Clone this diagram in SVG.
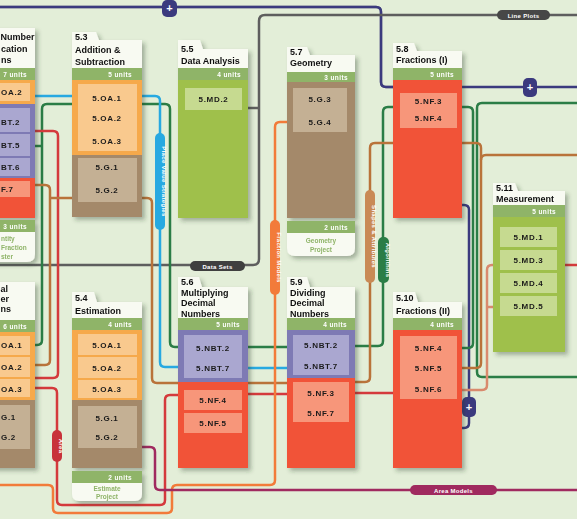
<svg xmlns="http://www.w3.org/2000/svg" width="577" height="519" viewBox="0 0 577 519">
<defs>
<filter id="sh" x="-15%" y="-15%" width="140%" height="140%"><feDropShadow dx="3" dy="3" stdDeviation="2" flood-color="#2f3d28" flood-opacity="0.35"/></filter>
<style>
.hd{fill:#f8faf2}
.bd{fill:#8fb468}
.or{fill:#f6a94b}.ori{fill:#f9c98e}
.pu{fill:#7e7ab4}.pui{fill:#aaa7d0}
.rd{fill:#f15337}.rdi{fill:#f7967a}
.br{fill:#a4896b}.bri{fill:#c4b094}
.gr{fill:#9fc04c}.gri{fill:#c6da90}
.ft{fill:#f8faf2}
text{font-family:"Liberation Sans",Arial,sans-serif;font-weight:bold}
.t{font-size:9px;fill:#111}
.it{font-size:8px;fill:#1a1a1a;text-anchor:middle;letter-spacing:0.7px}
.il{font-size:8px;fill:#1a1a1a;letter-spacing:0.7px}
.u{font-size:6.5px;fill:#fff;text-anchor:end;letter-spacing:0.4px}
.fx{font-size:6.5px;fill:#8fb468;text-anchor:middle}
.fl{font-size:6.5px;fill:#8fb468}
.pl{font-size:6px;fill:#fff;text-anchor:middle;letter-spacing:0.3px}
.c{fill:none;stroke-width:2.5;stroke-linejoin:round;stroke-linecap:butt}
.g{stroke:#2b7d46}.b{stroke:#27a9e1}.r{stroke:#d43a3c}.w{stroke:#b9733a}.s{stroke:#d98a6e}.o{stroke:#f27b3a}.m{stroke:#a02a5f}.n{stroke:#3b3a7e}.k{stroke:#5e5e5e}
</style>
</defs>
<rect width="577" height="519" fill="#e3eed8"/>

<g id="connectors">
  <path class="c" d="M0 7 H376 Q381 7 381 12 V82 Q381 87 386 87 H393" stroke="#8d8d9c" stroke-width="6"/>
  <path class="c n" d="M0 7 H376 Q381 7 381 12 V82 Q381 87 386 87 H393" stroke-width="3"/>
  <path class="c k" d="M0 265 H253 Q259 265 259 259 V21 Q259 15 265 15 H577" stroke-width="3"/>
  <path class="c k" d="M248 108 H259"/>
  <path class="c n" d="M462 87 H577" stroke-width="3"/>
  <path class="c n" d="M462 205 H464 Q469 205 469 210 V423 Q469 428 464 428 H462"/>
  <path class="c g" d="M35 146 H42"/>
  <path class="c g" d="M72 104 H47 Q42 104 42 109 V340 Q42 345 37 345 H35"/>
  <path class="c g" d="M142 104 H165 Q170 104 170 109 V342 Q170 347 175 347 H178"/>
  <path class="c g" d="M248 347 H287"/>
  <path class="c g" d="M355 346 H378 Q383 346 383 341 V112 Q383 107 388 107 H393"/>
  <path class="c g" d="M462 107 H468 Q473 107 473 112 V343 Q473 348 468 348 H462"/>
  <path class="c g" d="M577 103 H482 Q477 103 477 108 V372 Q477 377 482 377 H577"/>
  <path class="c b" d="M35 96 H72"/>
  <path class="c b" d="M142 96 H155 Q160 96 160 101 V362 Q160 367 165 367 H178"/>
  <path class="c b" d="M248 368 H287"/>
  <path class="c r" d="M35 131 H53 Q58 131 58 136 V373 Q58 378 53 378 H35"/>
  <path class="c r" d="M35 388 H52 Q57 388 57 393 V500 Q57 505 62 505 H160 Q165 505 165 500 V400 Q165 395 170 395 H178"/>
  <path class="c r" d="M248 394 H287"/>
  <path class="c r" d="M355 393 H393"/>
  <path class="c r" d="M565 265 H577"/>
  <path class="c w" d="M35 185 H45 Q50 185 50 190 V360 Q50 365 45 365 H35"/>
  <path class="c w" d="M72 198 H50"/>
  <path class="c w" d="M142 198 H147 Q152 198 152 203 V378 Q152 383 157 383 H178"/>
  <path class="c w" d="M248 383 H287"/>
  <path class="c w" d="M355 382 H365 Q370 382 370 377 V148 Q370 143 375 143 H393"/>
  <path class="c w" d="M462 143 H476 Q481 143 481 148 V363 Q481 368 476 368 H462"/>
  <path class="c w" d="M481 160 Q481 155 486 155 H577"/>
  <path class="c s" d="M493 265 H492 Q487 265 487 270 V385 Q487 390 482 390 H462"/>
  <path class="c s" d="M493 307 H487"/>
  <path class="c o" d="M0 485 H48 Q53 485 53 490 V508 Q53 513 58 513 H167 Q172 513 172 508 V490 Q172 485 177 485 H270 Q275 485 275 480 V127 Q275 122 280 122 H287"/>
  <path class="c m" d="M142 447 H150 Q155 447 155 452 V485 Q155 490 160 490 H577"/>
  <rect x="162" y="0" width="15" height="17" rx="5" fill="#3b3a7e"/>
  <text class="pl" x="169.5" y="12" style="font-size:11px">+</text>
  <rect x="523" y="78" width="14" height="19" rx="5" fill="#3b3a7e"/>
  <text class="pl" x="530" y="91" style="font-size:11px">+</text>
  <rect x="462" y="397" width="14" height="20" rx="5" fill="#3b3a7e"/>
  <text class="pl" x="469" y="411" style="font-size:11px">+</text>
  <rect x="190" y="261" width="55" height="10" rx="5" fill="#3f3f3f"/>
  <text class="pl" x="217.5" y="268.5">Data Sets</text>
  <rect x="497" y="10" width="53" height="10" rx="5" fill="#474747"/>
  <text class="pl" x="523.5" y="17.5">Line Plots</text>
  <rect x="410" y="485" width="87" height="10" rx="5" fill="#a02a5f"/>
  <text class="pl" x="453.5" y="492.5">Area Models</text>
  <rect x="155" y="133" width="10" height="97" rx="5" fill="#27a9e1"/>
  <text class="pl" transform="translate(162 181.5) rotate(90)" x="0" y="0">Place Value Strategies</text>
  <rect x="270" y="220" width="10" height="75" rx="5" fill="#f27b3a"/>
  <text class="pl" transform="translate(277 257.5) rotate(90)" x="0" y="0">Fraction Models</text>
  <rect x="365" y="190" width="10" height="93" rx="5" fill="#c98a55"/>
  <text class="pl" transform="translate(372 236.5) rotate(90)" x="0" y="0">Shapes &amp; Attributes</text>
  <rect x="378" y="237" width="11" height="46" rx="5" fill="#2b7d46"/>
  <text class="pl" transform="translate(385.5 260) rotate(90)" x="0" y="0">Algorithms</text>
  <rect x="52" y="430" width="10" height="32" rx="5" fill="#c8323a"/>
  <text class="pl" transform="translate(59 446) rotate(90)" x="0" y="0">Area</text>
</g>

<g id="n51" filter="url(#sh)">
  <rect class="hd" x="-40" y="28" width="75" height="40"/>
  <text class="t" x="0.5" y="40">Number</text>
  <text class="t" x="1" y="52">cation</text>
  <text class="t" x="1" y="63">ns</text>
  <rect class="bd" x="-40" y="68" width="75" height="12"/>
  <text class="u" x="27" y="76.5">7 units</text>
  <rect class="or" x="-40" y="80" width="75" height="24"/>
  <rect class="ori" x="-35" y="83" width="65" height="18"/>
  <text class="il" x="1" y="95">OA.2</text>
  <rect class="pu" x="-40" y="104" width="75" height="74"/>
  <rect class="pui" x="-35" y="108" width="65" height="24"/>
  <rect class="pui" x="-35" y="134" width="65" height="22"/>
  <rect class="pui" x="-35" y="158" width="65" height="18"/>
  <text class="il" x="1" y="125">BT.2</text>
  <text class="il" x="1" y="148">BT.5</text>
  <text class="il" x="1" y="170">BT.6</text>
  <rect class="rd" x="-40" y="178" width="75" height="40"/>
  <rect class="rdi" x="-35" y="181" width="65" height="16"/>
  <text class="il" x="1" y="192">F.7</text>
  <rect class="bd" x="-40" y="220" width="75" height="12"/>
  <text class="u" x="27" y="228.5">3 units</text>
  <path class="ft" d="M-40 232 H35 V254 Q35 262 27 262 H-40 Z"/>
  <text class="fl" x="1" y="241">ntity</text>
  <text class="fl" x="1" y="250">Fraction</text>
  <text class="fl" x="1" y="259">ster</text>
</g>

<g id="n52" filter="url(#sh)">
  <rect class="hd" x="-40" y="282" width="75" height="38"/>
  <text class="t" x="0.5" y="292">al</text>
  <text class="t" x="0.5" y="302">er</text>
  <text class="t" x="0.5" y="312">ns</text>
  <rect class="bd" x="-40" y="320" width="75" height="12"/>
  <text class="u" x="27" y="328.5">6 units</text>
  <rect class="or" x="-40" y="332" width="75" height="68"/>
  <rect class="ori" x="-35" y="336" width="65" height="19"/>
  <rect class="ori" x="-35" y="357" width="65" height="20"/>
  <rect class="ori" x="-35" y="379" width="65" height="18"/>
  <text class="il" x="1" y="348">OA.1</text>
  <text class="il" x="1" y="370">OA.2</text>
  <text class="il" x="1" y="392">OA.3</text>
  <rect class="br" x="-40" y="400" width="75" height="68"/>
  <rect class="bri" x="-35" y="405" width="65" height="44"/>
  <text class="il" x="1" y="420">G.1</text>
  <text class="il" x="1" y="440">G.2</text>
</g>

<g id="n53" filter="url(#sh)">
  <path class="hd" d="M72 32 H96 L99 40 H142 V68 H72 Z"/>
  <text class="t" x="75" y="40">5.3</text>
  <text class="t" x="75" y="53">Addition &amp;</text>
  <text class="t" x="75" y="65">Subtraction</text>
  <rect class="bd" x="72" y="68" width="70" height="12"/>
  <text class="u" x="132" y="76.5">5 units</text>
  <rect class="or" x="72" y="80" width="70" height="75"/>
  <rect class="ori" x="78" y="84" width="59" height="67"/>
  <text class="it" x="107" y="101">5.OA.1</text>
  <text class="it" x="107" y="121">5.OA.2</text>
  <text class="it" x="107" y="144">5.OA.3</text>
  <rect class="br" x="72" y="155" width="70" height="62"/>
  <rect class="bri" x="78" y="158" width="59" height="44"/>
  <text class="it" x="107" y="170">5.G.1</text>
  <text class="it" x="107" y="193">5.G.2</text>
</g>

<g id="n55" filter="url(#sh)">
  <path class="hd" d="M178 40 H200 L203 49 H248 V68 H178 Z"/>
  <text class="t" x="181" y="52">5.5</text>
  <text class="t" x="181" y="64">Data Analysis</text>
  <rect class="bd" x="178" y="68" width="70" height="12"/>
  <text class="u" x="241" y="76.5">4 units</text>
  <rect class="gr" x="178" y="80" width="70" height="138"/>
  <rect class="gri" x="185" y="88" width="57" height="22"/>
  <text class="it" x="213.5" y="102">5.MD.2</text>
</g>

<g id="n57" filter="url(#sh)">
  <path class="hd" d="M287 47 H307 L310 55 H355 V72 H287 Z"/>
  <text class="t" x="290" y="55">5.7</text>
  <text class="t" x="290" y="66">Geometry</text>
  <rect class="bd" x="287" y="72" width="68" height="10"/>
  <text class="u" x="348" y="79.5">3 units</text>
  <rect class="br" x="287" y="82" width="68" height="136"/>
  <rect class="bri" x="293" y="88" width="54" height="44"/>
  <text class="it" x="320" y="102">5.G.3</text>
  <text class="it" x="320" y="125">5.G.4</text>
  <rect class="bd" x="287" y="221" width="68" height="12"/>
  <text class="u" x="348" y="229.5">2 units</text>
  <path class="ft" d="M287 233 H355 V248 Q355 256 347 256 H295 Q287 256 287 248 Z"/>
  <text class="fx" x="321" y="243">Geometry</text>
  <text class="fx" x="321" y="252">Project</text>
</g>

<g id="n58" filter="url(#sh)">
  <path class="hd" d="M393 43 H414 L417 51 H462 V68 H393 Z"/>
  <text class="t" x="396" y="52">5.8</text>
  <text class="t" x="396" y="63">Fractions (I)</text>
  <rect class="bd" x="393" y="68" width="69" height="12"/>
  <text class="u" x="454" y="76.5">5 units</text>
  <rect class="rd" x="393" y="80" width="69" height="138"/>
  <rect class="rdi" x="400" y="93" width="57" height="35"/>
  <text class="it" x="428.5" y="104">5.NF.3</text>
  <text class="it" x="428.5" y="121">5.NF.4</text>
</g>

<g id="n511" filter="url(#sh)">
  <path class="hd" d="M493 183 H515 L518 191 H565 V205 H493 Z"/>
  <text class="t" x="496" y="191">5.11</text>
  <text class="t" x="496" y="202">Measurement</text>
  <rect class="bd" x="493" y="205" width="72" height="12"/>
  <text class="u" x="556" y="213.5">5 units</text>
  <rect class="gr" x="493" y="217" width="72" height="135"/>
  <rect class="gri" x="500" y="227" width="57" height="20"/>
  <rect class="gri" x="500" y="250" width="57" height="20"/>
  <rect class="gri" x="500" y="273" width="57" height="20"/>
  <rect class="gri" x="500" y="296" width="57" height="20"/>
  <text class="it" x="528.5" y="240">5.MD.1</text>
  <text class="it" x="528.5" y="263">5.MD.3</text>
  <text class="it" x="528.5" y="286">5.MD.4</text>
  <text class="it" x="528.5" y="309">5.MD.5</text>
</g>

<g id="n54" filter="url(#sh)">
  <path class="hd" d="M72 292 H94 L97 302 H142 V318 H72 Z"/>
  <text class="t" x="75" y="301">5.4</text>
  <text class="t" x="75" y="314">Estimation</text>
  <rect class="bd" x="72" y="318" width="70" height="12"/>
  <text class="u" x="132" y="326.5">4 units</text>
  <rect class="or" x="72" y="330" width="70" height="70"/>
  <rect class="ori" x="78" y="334" width="59" height="21"/>
  <rect class="ori" x="78" y="357" width="59" height="21"/>
  <rect class="ori" x="78" y="380" width="59" height="18"/>
  <text class="it" x="107" y="348">5.OA.1</text>
  <text class="it" x="107" y="371">5.OA.2</text>
  <text class="it" x="107" y="392">5.OA.3</text>
  <rect class="br" x="72" y="400" width="70" height="68"/>
  <rect class="bri" x="78" y="406" width="59" height="42"/>
  <text class="it" x="107" y="421">5.G.1</text>
  <text class="it" x="107" y="440">5.G.2</text>
  <rect class="bd" x="72" y="471" width="70" height="12"/>
  <text class="u" x="132" y="479.5">2 units</text>
  <path class="ft" d="M72 483 H142 V494 Q142 501 135 501 H79 Q72 501 72 494 Z"/>
  <text class="fx" x="107" y="491">Estimate</text>
  <text class="fx" x="107" y="499">Project</text>
</g>

<g id="n56" filter="url(#sh)">
  <path class="hd" d="M178 277 H199 L202 287 H248 V318 H178 Z"/>
  <text class="t" x="181" y="285">5.6</text>
  <text class="t" x="181" y="296">Multiplying</text>
  <text class="t" x="181" y="306">Decimal</text>
  <text class="t" x="181" y="317">Numbers</text>
  <rect class="bd" x="178" y="318" width="70" height="12"/>
  <text class="u" x="240" y="326.5">5 units</text>
  <rect class="pu" x="178" y="330" width="70" height="52"/>
  <rect class="pui" x="184" y="335" width="58" height="43"/>
  <text class="it" x="213" y="351">5.NBT.2</text>
  <text class="it" x="213" y="371">5.NBT.7</text>
  <rect class="rd" x="178" y="382" width="70" height="86"/>
  <rect class="rdi" x="184" y="390" width="58" height="20"/>
  <rect class="rdi" x="184" y="413" width="58" height="20"/>
  <text class="it" x="213" y="403">5.NF.4</text>
  <text class="it" x="213" y="426">5.NF.5</text>
</g>

<g id="n59" filter="url(#sh)">
  <path class="hd" d="M287 277 H307 L310 287 H355 V318 H287 Z"/>
  <text class="t" x="290" y="285">5.9</text>
  <text class="t" x="290" y="296">Dividing</text>
  <text class="t" x="290" y="306">Decimal</text>
  <text class="t" x="290" y="317">Numbers</text>
  <rect class="bd" x="287" y="318" width="68" height="12"/>
  <text class="u" x="347" y="326.5">4 units</text>
  <rect class="pu" x="287" y="330" width="68" height="48"/>
  <rect class="pui" x="293" y="335" width="56" height="40"/>
  <text class="it" x="321" y="348">5.NBT.2</text>
  <text class="it" x="321" y="369">5.NBT.7</text>
  <rect class="rd" x="287" y="378" width="68" height="90"/>
  <rect class="rdi" x="293" y="382" width="56" height="40"/>
  <text class="it" x="321" y="396">5.NF.3</text>
  <text class="it" x="321" y="416">5.NF.7</text>
</g>

<g id="n510" filter="url(#sh)">
  <path class="hd" d="M393 292 H415 L418 302 H462 V318 H393 Z"/>
  <text class="t" x="396" y="301">5.10</text>
  <text class="t" x="396" y="314">Fractions (II)</text>
  <rect class="bd" x="393" y="318" width="69" height="12"/>
  <text class="u" x="454" y="326.5">4 units</text>
  <rect class="rd" x="393" y="330" width="69" height="138"/>
  <rect class="rdi" x="400" y="336" width="57" height="63"/>
  <text class="it" x="428.5" y="351">5.NF.4</text>
  <text class="it" x="428.5" y="371">5.NF.5</text>
  <text class="it" x="428.5" y="392">5.NF.6</text>
</g>
</svg>
